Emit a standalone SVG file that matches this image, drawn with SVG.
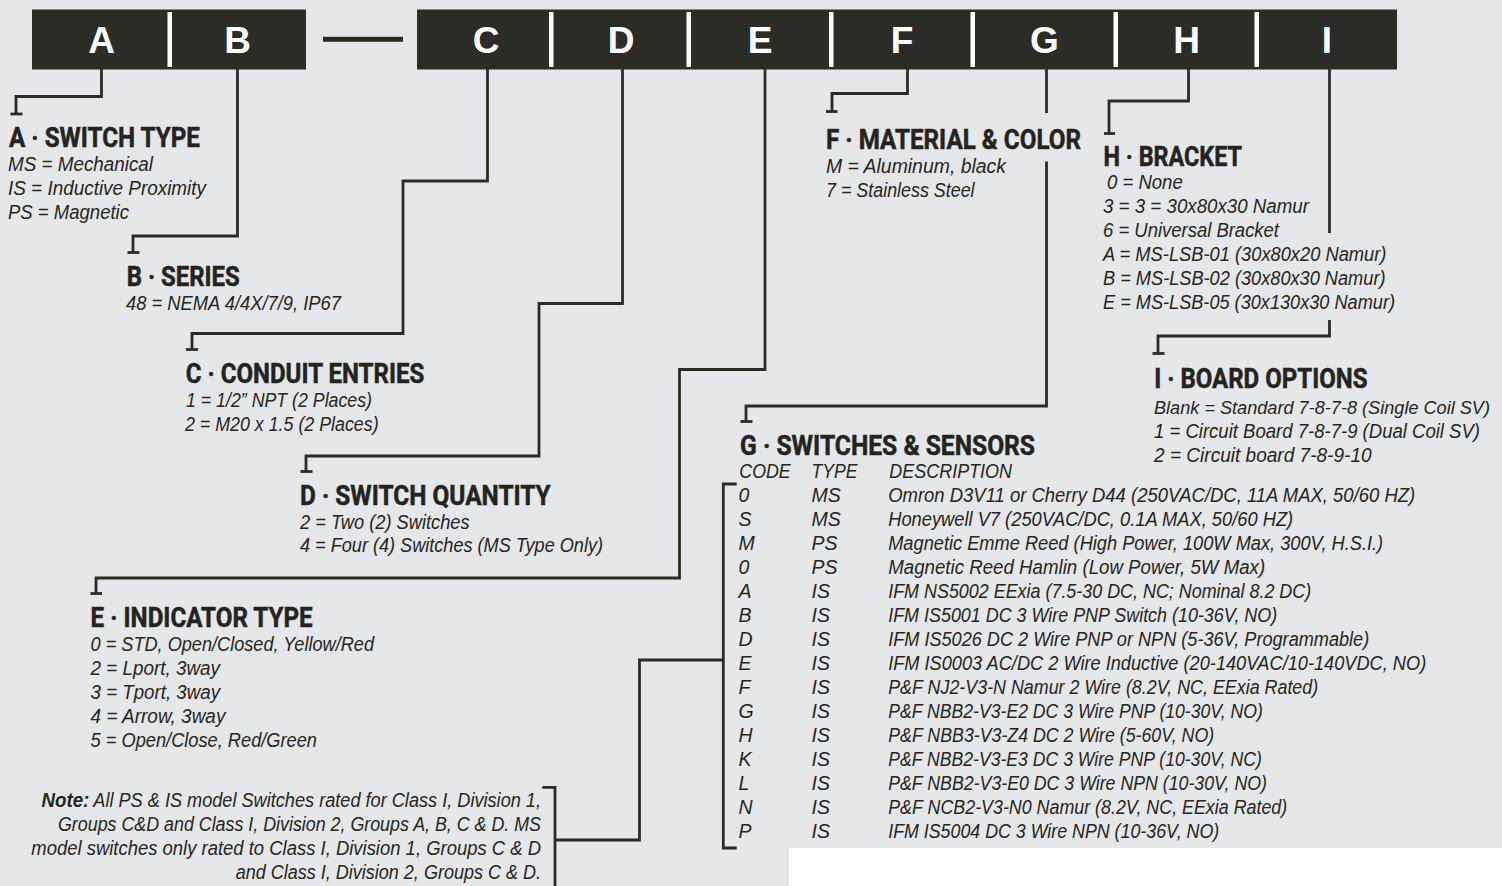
<svg xmlns="http://www.w3.org/2000/svg" width="1502" height="886" viewBox="0 0 1502 886">
<style>
.bg{fill:#e6e7e8}
.bar{fill:#2a2c25}
.div{fill:#ffffff}
.let{font-family:"Liberation Sans",Arial,sans-serif;font-weight:bold;font-size:37px;fill:#ffffff;text-anchor:middle}
.hd{font-family:"Liberation Sans Narrow","Roboto","Liberation Sans",sans-serif;font-weight:bold;font-size:27px;fill:#23241f;stroke:#23241f;stroke-width:0.5}
.tx{font-family:"Liberation Sans","Noto Sans",sans-serif;font-style:italic;font-size:19.5px;fill:#252521}
.sm{font-size:18.5px}
.nb{font-weight:bold}
.ln{fill:none;stroke:#2a2c25;stroke-width:2.8;stroke-linejoin:miter;stroke-linecap:butt}
</style>
<rect class="bg" x="0" y="0" width="1502" height="886"/>
<rect x="789" y="848" width="713" height="38" fill="#ffffff"/>

<g id="code-bar">
  <rect class="bar" x="32" y="9.5" width="274" height="60"/>
  <rect class="div" x="167.5" y="12" width="4.5" height="55"/>
  <rect class="bar" x="323" y="36.8" width="80" height="5"/>
  <rect class="bar" x="417" y="9.5" width="980" height="60"/>
  <rect class="div" x="549" y="12" width="4.5" height="55"/>
  <rect class="div" x="686.5" y="12" width="4.5" height="55"/>
  <rect class="div" x="829" y="12" width="4.5" height="55"/>
  <rect class="div" x="970.5" y="12" width="4.5" height="55"/>
  <rect class="div" x="1113.5" y="12" width="4.5" height="55"/>
  <rect class="div" x="1254.5" y="12" width="4.5" height="55"/>
  <text class="let" x="101.7" y="53.3">A</text>
  <text class="let" x="237.5" y="53.3">B</text>
  <text class="let" x="486" y="53.3">C</text>
  <text class="let" x="621" y="53.3">D</text>
  <text class="let" x="760" y="53.3">E</text>
  <text class="let" x="902" y="53.3">F</text>
  <text class="let" x="1044.5" y="53.3">G</text>
  <text class="let" x="1186.5" y="53.3">H</text>
  <text class="let" x="1327" y="53.3">I</text>
</g>

<g id="connectors">
  <path class="ln" d="M101.5 69 V96.5 H16 V114"/><path class="ln" d="M10.5 114 H22.5"/>
  <path class="ln" d="M237.5 69 V236 H133 V252.5"/><path class="ln" d="M127.5 252.5 H139.5"/>
  <path class="ln" d="M487.5 69 V181 H403 V333.5 H192 V349.5"/><path class="ln" d="M186 349.5 H198"/>
  <path class="ln" d="M622.5 69 V303.5 H539 V456 H306 V471.5"/><path class="ln" d="M300.5 471.5 H312.5"/>
  <path class="ln" d="M765 69 V369.5 H679.5 V578 H96 V593.5"/><path class="ln" d="M90.5 593.5 H102"/>
  <path class="ln" d="M907.5 69 V93.5 H832 V111.5"/><path class="ln" d="M826 111.5 H837.5"/>
  <path class="ln" d="M1046.5 69 V113"/>
  <path class="ln" d="M1046.5 161.5 V406 H746 V421.5"/><path class="ln" d="M740.5 421.5 H752.5"/>
  <path class="ln" d="M1188.5 69 V101 H1109 V133.5"/><path class="ln" d="M1104 133.5 H1115"/>
  <path class="ln" d="M1329.5 69 V233"/>
  <path class="ln" d="M1329.5 320 V336 H1158 V353.5"/><path class="ln" d="M1152.5 353.5 H1164.5"/>
  <path class="ln" d="M736.7 484 H723.3 V848 H736.7"/>
  <path class="ln" d="M542.3 787.3 H555 V886"/>
  <path class="ln" d="M555 840 H639.5 V660 H723.3"/>
</g>

<g id="node-A">
  <text class="hd" x="9" y="147" textLength="191" lengthAdjust="spacingAndGlyphs">A · SWITCH TYPE</text>
  <text class="tx" x="8" y="171" textLength="145" lengthAdjust="spacingAndGlyphs">MS = Mechanical</text>
  <text class="tx" x="8" y="195" textLength="198" lengthAdjust="spacingAndGlyphs">IS = Inductive Proximity</text>
  <text class="tx" x="8" y="219" textLength="121" lengthAdjust="spacingAndGlyphs">PS = Magnetic</text>
</g>

<g id="node-B">
  <text class="hd" x="126.7" y="286" textLength="113" lengthAdjust="spacingAndGlyphs">B · SERIES</text>
  <text class="tx" x="126" y="310" textLength="215" lengthAdjust="spacingAndGlyphs">48 = NEMA 4/4X/7/9, IP67</text>
</g>

<g id="node-C">
  <text class="hd" x="185.7" y="382.7" textLength="238.6" lengthAdjust="spacingAndGlyphs">C · CONDUIT ENTRIES</text>
  <text class="tx" x="186" y="407" textLength="186" lengthAdjust="spacingAndGlyphs">1 = 1/2” NPT (2 Places)</text>
  <text class="tx" x="185" y="431" textLength="193.6" lengthAdjust="spacingAndGlyphs">2 = M20 x 1.5 (2 Places)</text>
</g>

<g id="node-D">
  <text class="hd" x="300" y="504.7" textLength="250.7" lengthAdjust="spacingAndGlyphs">D · SWITCH QUANTITY</text>
  <text class="tx" x="300" y="529" textLength="169.6" lengthAdjust="spacingAndGlyphs">2 = Two (2) Switches</text>
  <text class="tx" x="300" y="552" textLength="303" lengthAdjust="spacingAndGlyphs">4 = Four (4) Switches (MS Type Only)</text>
</g>

<g id="node-E">
  <text class="hd" x="90.6" y="626.7" textLength="222" lengthAdjust="spacingAndGlyphs">E · INDICATOR TYPE</text>
  <text class="tx" x="90.6" y="650.7" textLength="283.4" lengthAdjust="spacingAndGlyphs">0 = STD, Open/Closed, Yellow/Red</text>
  <text class="tx" x="90.6" y="674.7" textLength="129.4" lengthAdjust="spacingAndGlyphs">2 = Lport, 3way</text>
  <text class="tx" x="90.6" y="698.7" textLength="129.4" lengthAdjust="spacingAndGlyphs">3 = Tport, 3way</text>
  <text class="tx" x="90.6" y="722.7" textLength="134.8" lengthAdjust="spacingAndGlyphs">4 = Arrow, 3way</text>
  <text class="tx" x="90.6" y="746.7" textLength="226.4" lengthAdjust="spacingAndGlyphs">5 = Open/Close, Red/Green</text>
</g>

<g id="node-F">
  <text class="hd" x="826" y="149" textLength="255" lengthAdjust="spacingAndGlyphs">F · MATERIAL &amp; COLOR</text>
  <text class="tx" x="826" y="172.7" textLength="180" lengthAdjust="spacingAndGlyphs">M = Aluminum, black</text>
  <text class="tx" x="826" y="196.7" textLength="148.6" lengthAdjust="spacingAndGlyphs">7 = Stainless Steel</text>
</g>

<g id="node-H">
  <text class="hd" x="1103.5" y="165.7" textLength="138.5" lengthAdjust="spacingAndGlyphs">H · BRACKET</text>
  <text class="tx" x="1107" y="189.3" textLength="75.7" lengthAdjust="spacingAndGlyphs">0 = None</text>
  <text class="tx" x="1103" y="213.3" textLength="206" lengthAdjust="spacingAndGlyphs">3 = 3 = 30x80x30 Namur</text>
  <text class="tx" x="1103" y="237.3" textLength="176" lengthAdjust="spacingAndGlyphs">6 = Universal Bracket</text>
  <text class="tx" x="1103" y="261.3" textLength="283.4" lengthAdjust="spacingAndGlyphs">A = MS-LSB-01 (30x80x20 Namur)</text>
  <text class="tx" x="1103" y="285.3" textLength="282.5" lengthAdjust="spacingAndGlyphs">B = MS-LSB-02 (30x80x30 Namur)</text>
  <text class="tx" x="1103" y="309.3" textLength="292" lengthAdjust="spacingAndGlyphs">E = MS-LSB-05 (30x130x30 Namur)</text>
</g>

<g id="node-I">
  <text class="hd" x="1154.2" y="388.3" textLength="213.3" lengthAdjust="spacingAndGlyphs">I · BOARD OPTIONS</text>
  <text class="tx sm" x="1154" y="414" textLength="336" lengthAdjust="spacingAndGlyphs">Blank = Standard 7-8-7-8 (Single Coil SV)</text>
  <text class="tx" x="1154" y="438.3" textLength="326" lengthAdjust="spacingAndGlyphs">1 = Circuit Board 7-8-7-9 (Dual Coil SV)</text>
  <text class="tx" x="1154" y="462.3" textLength="217.6" lengthAdjust="spacingAndGlyphs">2 = Circuit board 7-8-9-10</text>
</g>

<g id="node-G">
  <text class="hd" x="740" y="455" textLength="295" lengthAdjust="spacingAndGlyphs">G · SWITCHES &amp; SENSORS</text>
  <text class="tx" x="739.3" y="478.3" textLength="51.4" lengthAdjust="spacingAndGlyphs">CODE</text>
  <text class="tx" x="811.5" y="478.3" textLength="46" lengthAdjust="spacingAndGlyphs">TYPE</text>
  <text class="tx" x="889.3" y="478.3" textLength="122.7" lengthAdjust="spacingAndGlyphs">DESCRIPTION</text>
  <g id="codes" class="tx">
    <text x="738.4" y="501.7">0</text>
    <text x="738.4" y="525.7">S</text>
    <text x="738.4" y="549.7">M</text>
    <text x="738.4" y="573.7">0</text>
    <text x="738.4" y="597.7">A</text>
    <text x="738.4" y="621.7">B</text>
    <text x="738.4" y="645.7">D</text>
    <text x="738.4" y="669.7">E</text>
    <text x="738.4" y="693.7">F</text>
    <text x="738.4" y="717.7">G</text>
    <text x="738.4" y="741.7">H</text>
    <text x="738.4" y="765.7">K</text>
    <text x="738.4" y="789.7">L</text>
    <text x="738.4" y="813.7">N</text>
    <text x="738.4" y="837.7">P</text>
  </g>
  <g id="types" class="tx">
    <text x="811.5" y="501.7">MS</text>
    <text x="811.5" y="525.7">MS</text>
    <text x="811.5" y="549.7">PS</text>
    <text x="811.5" y="573.7">PS</text>
    <text x="811.5" y="597.7">IS</text>
    <text x="811.5" y="621.7">IS</text>
    <text x="811.5" y="645.7">IS</text>
    <text x="811.5" y="669.7">IS</text>
    <text x="811.5" y="693.7">IS</text>
    <text x="811.5" y="717.7">IS</text>
    <text x="811.5" y="741.7">IS</text>
    <text x="811.5" y="765.7">IS</text>
    <text x="811.5" y="789.7">IS</text>
    <text x="811.5" y="813.7">IS</text>
    <text x="811.5" y="837.7">IS</text>
  </g>
  <g id="descriptions" class="tx">
    <text x="888.2" y="501.7" textLength="527" lengthAdjust="spacingAndGlyphs">Omron D3V11 or Cherry D44 (250VAC/DC, 11A MAX, 50/60 HZ)</text>
    <text x="888.2" y="525.7" textLength="405" lengthAdjust="spacingAndGlyphs">Honeywell V7 (250VAC/DC, 0.1A MAX, 50/60 HZ)</text>
    <text x="888.2" y="549.7" textLength="495" lengthAdjust="spacingAndGlyphs">Magnetic Emme Reed (High Power, 100W Max, 300V, H.S.I.)</text>
    <text x="888.2" y="573.7" textLength="377" lengthAdjust="spacingAndGlyphs">Magnetic Reed Hamlin (Low Power, 5W Max)</text>
    <text x="888.2" y="597.7" textLength="423" lengthAdjust="spacingAndGlyphs">IFM NS5002 EExia (7.5-30 DC, NC; Nominal 8.2 DC)</text>
    <text x="888.2" y="621.7" textLength="389" lengthAdjust="spacingAndGlyphs">IFM IS5001 DC 3 Wire PNP Switch (10-36V, NO)</text>
    <text x="888.2" y="645.7" textLength="481" lengthAdjust="spacingAndGlyphs">IFM IS5026 DC 2 Wire PNP or NPN (5-36V, Programmable)</text>
    <text x="888.2" y="669.7" textLength="538" lengthAdjust="spacingAndGlyphs">IFM IS0003 AC/DC 2 Wire Inductive (20-140VAC/10-140VDC, NO)</text>
    <text x="888.2" y="693.7" textLength="430" lengthAdjust="spacingAndGlyphs">P&amp;F NJ2-V3-N Namur 2 Wire (8.2V, NC, EExia Rated)</text>
    <text x="888.2" y="717.7" textLength="374.7" lengthAdjust="spacingAndGlyphs">P&amp;F NBB2-V3-E2 DC 3 Wire PNP (10-30V, NO)</text>
    <text x="888.2" y="741.7" textLength="326" lengthAdjust="spacingAndGlyphs">P&amp;F NBB3-V3-Z4 DC 2 Wire (5-60V, NO)</text>
    <text x="888.2" y="765.7" textLength="373.6" lengthAdjust="spacingAndGlyphs">P&amp;F NBB2-V3-E3 DC 3 Wire PNP (10-30V, NC)</text>
    <text x="888.2" y="789.7" textLength="378.8" lengthAdjust="spacingAndGlyphs">P&amp;F NBB2-V3-E0 DC 3 Wire NPN (10-30V, NO)</text>
    <text x="888.2" y="813.7" textLength="399" lengthAdjust="spacingAndGlyphs">P&amp;F NCB2-V3-N0 Namur (8.2V, NC, EExia Rated)</text>
    <text x="888.2" y="837.7" textLength="331" lengthAdjust="spacingAndGlyphs">IFM IS5004 DC 3 Wire NPN (10-36V, NO)</text>
  </g>
</g>

<g id="note">
  <text class="tx nb" x="41.5" y="806.7" textLength="47.8" lengthAdjust="spacingAndGlyphs">Note:</text>
  <text class="tx" x="93.3" y="806.7" textLength="447.7" lengthAdjust="spacingAndGlyphs">All PS &amp; IS model Switches rated for Class I, Division 1,</text>
  <text class="tx" x="58" y="830.7" textLength="483" lengthAdjust="spacingAndGlyphs">Groups C&amp;D and Class I, Division 2, Groups A, B, C &amp; D. MS</text>
  <text class="tx" x="31.3" y="854.7" textLength="509.7" lengthAdjust="spacingAndGlyphs">model switches only rated to Class I, Division 1, Groups C &amp; D</text>
  <text class="tx" x="235.7" y="878.7" textLength="305.3" lengthAdjust="spacingAndGlyphs">and Class I, Division 2, Groups C &amp; D.</text>
</g>
</svg>
